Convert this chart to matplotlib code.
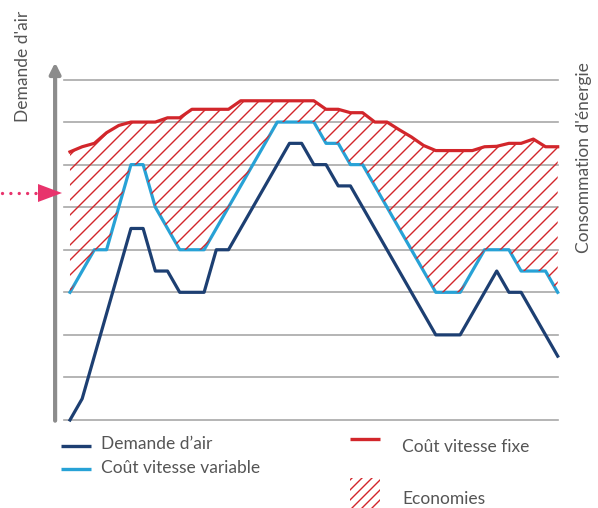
import numpy as np
import matplotlib
matplotlib.use("Agg")
import matplotlib.pyplot as plt
from matplotlib.lines import Line2D
from matplotlib.patches import Rectangle, Polygon
from matplotlib.transforms import IdentityTransform

# data (one point per time step)
t = list(range(41))
demande = [0, 0.5, 1.5, 2.5, 3.5, 4.5, 4.5, 3.5, 3.5, 3, 3, 3, 4, 4, 4.5, 5, 5.5, 6, 6.5, 6.5,
           6, 6, 5.5, 5.5, 5, 4.5, 4, 3.5, 3, 2.5, 2, 2, 2, 2.5, 3, 3.5, 3, 3, 2.5, 2, 1.5]
variable = [3, 3.5, 4, 4, 5, 6, 6, 5, 4.5, 4, 4, 4, 4.5, 5, 5.5, 6, 6.5, 7, 7, 7,
            7, 6.5, 6.5, 6, 6, 5.5, 5, 4.5, 4, 3.5, 3, 3, 3, 3.5, 4, 4, 4, 3.5, 3.5, 3.5, 3]
fixe = [6.3, 6.42, 6.5, 6.75, 6.92, 7.0, 7.0, 7.0, 7.1, 7.1, 7.3, 7.3, 7.3, 7.3, 7.5, 7.5, 7.5, 7.5, 7.5, 7.5,
        7.5, 7.3, 7.3, 7.22, 7.22, 7.0, 7.0, 6.82, 6.65, 6.45, 6.33, 6.33, 6.33, 6.33, 6.42, 6.43, 6.5, 6.5, 6.6, 6.42, 6.42]

NAVY = '#1d3f72'
BLUE = '#27a2d6'
RED = '#d2262b'
GRID = '#a8a8a8'
TXT = '#555555'
PINK = '#e8336c'

plt.rcParams['font.family'] = ['Lato', 'DejaVu Sans']

W, H = 598, 508
fig = plt.figure(figsize=(W / 100, H / 100), dpi=100)


def hatch_lines(clip_patch_or_coll, step=15):
    # diagonal red lines in pixel space, clipped to the given artist's path
    path = clip_patch_or_coll.get_paths()[0] if hasattr(clip_patch_or_coll, 'get_paths') \
        else clip_patch_or_coll.get_path()
    tr = clip_patch_or_coll.get_transform()
    for c in np.arange(-H, W + H, step):
        ln = Line2D([c, c + H * 1.1], [0, H * 1.1], transform=IdentityTransform(),
                    color=RED, lw=1.0, zorder=2)
        fig.add_artist(ln)
        ln.set_clip_path(path, tr)


ax = fig.add_axes([64 / W, 1 - 420 / H, (557.7 - 64) / W, (420 - 79.5) / H])
ax.set_xlim(-0.49, 40)
ax.set_ylim(0, 8)
for s in ax.spines.values():
    s.set_visible(False)
ax.set_xticks([])
ax.set_yticks([])
for g in range(9):
    ax.axhline(g, color=GRID, lw=1.2, zorder=1, clip_on=False)

# savings area
area = ax.fill_between(t, variable, fixe, facecolor='none', lw=0, zorder=2)
hatch_lines(area)

ax.plot(t, fixe, color=RED, lw=2.3, zorder=4, clip_on=False)
ax.plot(t, variable, color=BLUE, lw=2.3, zorder=4, clip_on=False)
ax.plot(t, demande, color=NAVY, lw=2.3, zorder=5, clip_on=False)

# vertical axis arrow
ax.annotate('', xy=(-0.018, 1.05), xytext=(-0.018, -0.002), xycoords='axes fraction',
            arrowprops=dict(arrowstyle='-|>', color='#8c8c8c', lw=3, mutation_scale=16,
                            shrinkA=0, shrinkB=0))

# pink dotted pointer
fig.add_artist(Line2D([2 / W, 40 / W], [1 - 193 / H, 1 - 193 / H], transform=fig.transFigure,
                      color=PINK, lw=2.4, linestyle=(0, (0.01, 2.5)), dash_capstyle='round'))
fig.add_artist(Polygon([[38 / W, 1 - 184 / H], [62 / W, 1 - 193 / H], [38 / W, 1 - 202 / H]],
                       closed=True, transform=fig.transFigure, color=PINK, lw=0, zorder=10))

# axis titles
fig.text(23 / W, 1 - 66 / H, "Demande d'air", rotation=90, ha='center', va='center',
         fontsize=12.5, color=TXT)
fig.text(584 / W, 1 - 158 / H, "Consommation d'énergie", rotation=90, ha='center', va='center',
         fontsize=12.5, color=TXT)

# legend
def leg_line(x0, x1, y, c):
    fig.add_artist(Line2D([x0 / W, x1 / W], [1 - y / H, 1 - y / H], transform=fig.transFigure,
                          color=c, lw=2.4, solid_capstyle='butt'))

leg_line(61, 91, 446, NAVY)
fig.text(101 / W, 1 - 444 / H, "Demande d’air", va='center', fontsize=12.5, color=TXT)
leg_line(61, 91, 469, BLUE)
fig.text(101 / W, 1 - 468 / H, "Coût vitesse variable", va='center', fontsize=12.5, color=TXT)
leg_line(350, 380, 439, RED)
fig.text(402 / W, 1 - 447 / H, "Coût vitesse fixe", va='center', fontsize=12.5, color=TXT)
box = Rectangle((350 / W, 1 - 508 / H), 30 / W, 30 / H, transform=fig.transFigure,
                facecolor='none', lw=0)
fig.add_artist(box)
hatch_lines(box, step=10)
fig.text(402 / W, 1 - 499 / H, "Economies", va='center', fontsize=12.5, color=TXT)

fig.savefig('out.png', dpi=100)
